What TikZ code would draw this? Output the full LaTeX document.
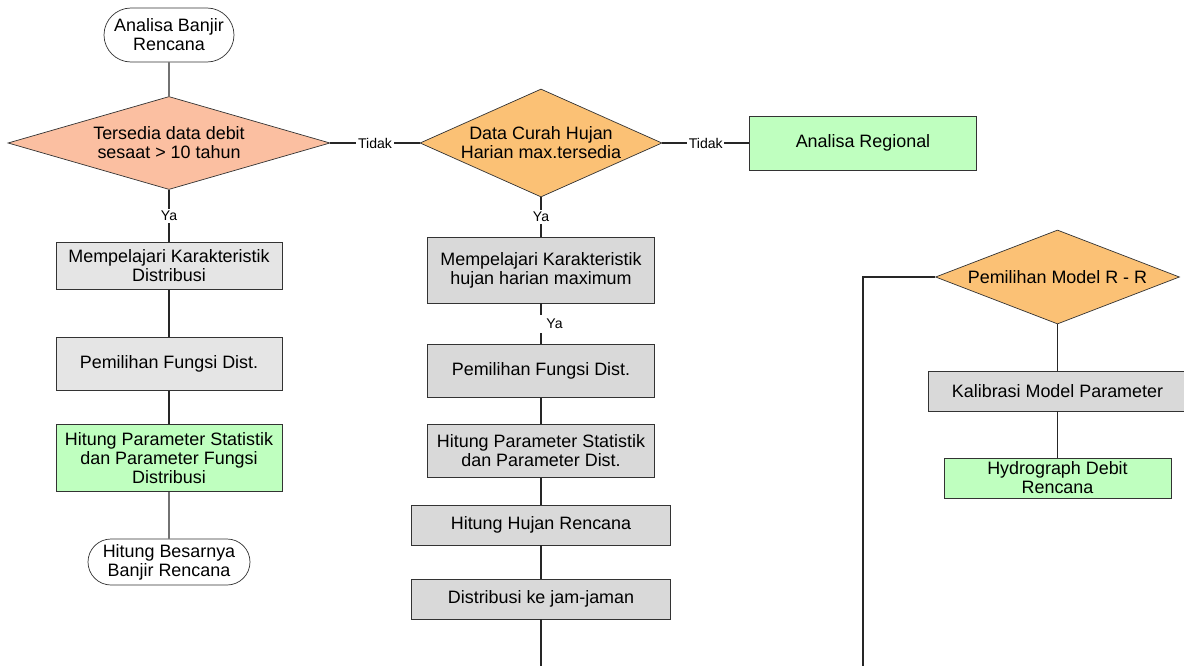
\documentclass[tikz,border=0pt]{standalone}
\usepackage{fontspec}
\setmainfont{Liberation Sans}
\usetikzlibrary{shapes.geometric,shapes.misc}

\definecolor{salmon}{HTML}{FBBFA1}
\definecolor{amber}{HTML}{FBC175}

\begin{document}
\begin{tikzpicture}[
  x=0.02cm, y=-0.02cm,
  font=\fontsize{10.2}{10.8}\selectfont,
  sz/.style 2 args={minimum width=#1*0.02cm, minimum height=#2*0.02cm},
  box/.style={rectangle, draw=black!80, align=center, inner sep=1pt},
  grey/.style={box, fill=black!10},
  greyd/.style={box, fill=black!15},
  good/.style={box, fill=green!25},
  term/.style={rounded rectangle, draw=black!80, fill=white, align=center, inner sep=0pt},
  decide/.style={diamond, draw=black!80, align=center, inner sep=0pt},
  lbl/.style={font=\fontsize{8}{9}\selectfont, fill=white, inner sep=1pt},
  line/.style={draw=black!85, line width=0.6pt}
]
\useasboundingbox (0,0) rectangle (1184,666);
% left column (debit data)
\node[term, sz={130}{54}]                 (start) at (169,35)  {Analisa Banjir\\Rencana};
\node[decide, fill=salmon, aspect=3.46, sz={322}{93}] (dec1) at (169,143) {Tersedia data debit\\sesaat > 10 tahun};
\node[grey, sz={226}{47}]                 (l1)    at (169,266) {Mempelajari Karakteristik\\Distribusi};
\node[grey, sz={226}{53}]                 (l2)    at (169,364) {Pemilihan Fungsi Dist.};
\node[good, sz={226}{67}]                 (l3)    at (169,458) {Hitung Parameter Statistik\\dan Parameter Fungsi\\Distribusi};
\node[term, sz={162}{46}]                 (stop)  at (169,562) {Hitung Besarnya\\Banjir Rencana};
% middle column (rain data)
\node[decide, fill=amber, aspect=2.24, sz={242}{108}] (dec2) at (541,143) {Data Curah Hujan\\Harian max.tersedia};
\node[greyd, sz={227}{66}]                (m1)    at (541,270) {Mempelajari Karakteristik\\hujan harian maximum};
\node[greyd, sz={227}{53}]                (m2)    at (541,371) {Pemilihan Fungsi Dist.};
\node[greyd, sz={227}{53}]                (m3)    at (541,451) {Hitung Parameter Statistik\\dan Parameter Dist.};
\node[greyd, sz={259}{40}]                (m4)    at (541,525) {Hitung Hujan Rencana};
\node[greyd, sz={259}{40}]                (m5)    at (541,599) {Distribusi ke jam-jaman};
\coordinate (midend) at (541,666);
% right side
\node[good, sz={227}{54}]                 (reg)   at (863,143) {Analisa Regional};
\node[decide, fill=amber, aspect=2.6, sz={244}{94}] (rr) at (1057.5,277) {Pemilihan Model R - R};
\node[greyd, sz={258}{40}]                (kal)   at (1057.5,391) {Kalibrasi Model Parameter};
\node[good, sz={227}{40}]                 (hyd)   at (1057.5,478) {Hydrograph Debit\\Rencana};
\coordinate (rrbend) at (863,277);
\coordinate (rrend)  at (863,666);
% connectors
\draw[line] (start) -- (dec1);
\draw[line] (dec1) -- node[lbl] {Tidak} (dec2);
\draw[line] (dec2) -- node[lbl] {Tidak} (reg);
\draw[line] (dec1) -- node[lbl] {Ya} (l1);
\draw[line] (l1) -- (l2);
\draw[line] (l2) -- (l3);
\draw[line] (l3) -- (stop);
\draw[line] (dec2) -- node[lbl] {Ya} (m1);
\draw[line] (m1) -- node[fill=white, inner sep=0pt, minimum width=4pt, minimum height=18*0.02cm,
  label={[lbl, fill=none, inner sep=0.5pt]right:Ya}] {} (m2);
\draw[line] (m2) -- (m3);
\draw[line] (m3) -- (m4);
\draw[line] (m4) -- (m5);
\draw[line] (m5) -- (midend);
\draw[line] (rr) -- (rrbend) -- (rrend);
\draw[line] (rr) -- (kal);
\draw[line] (kal) -- (hyd);
\end{tikzpicture}
\end{document}
